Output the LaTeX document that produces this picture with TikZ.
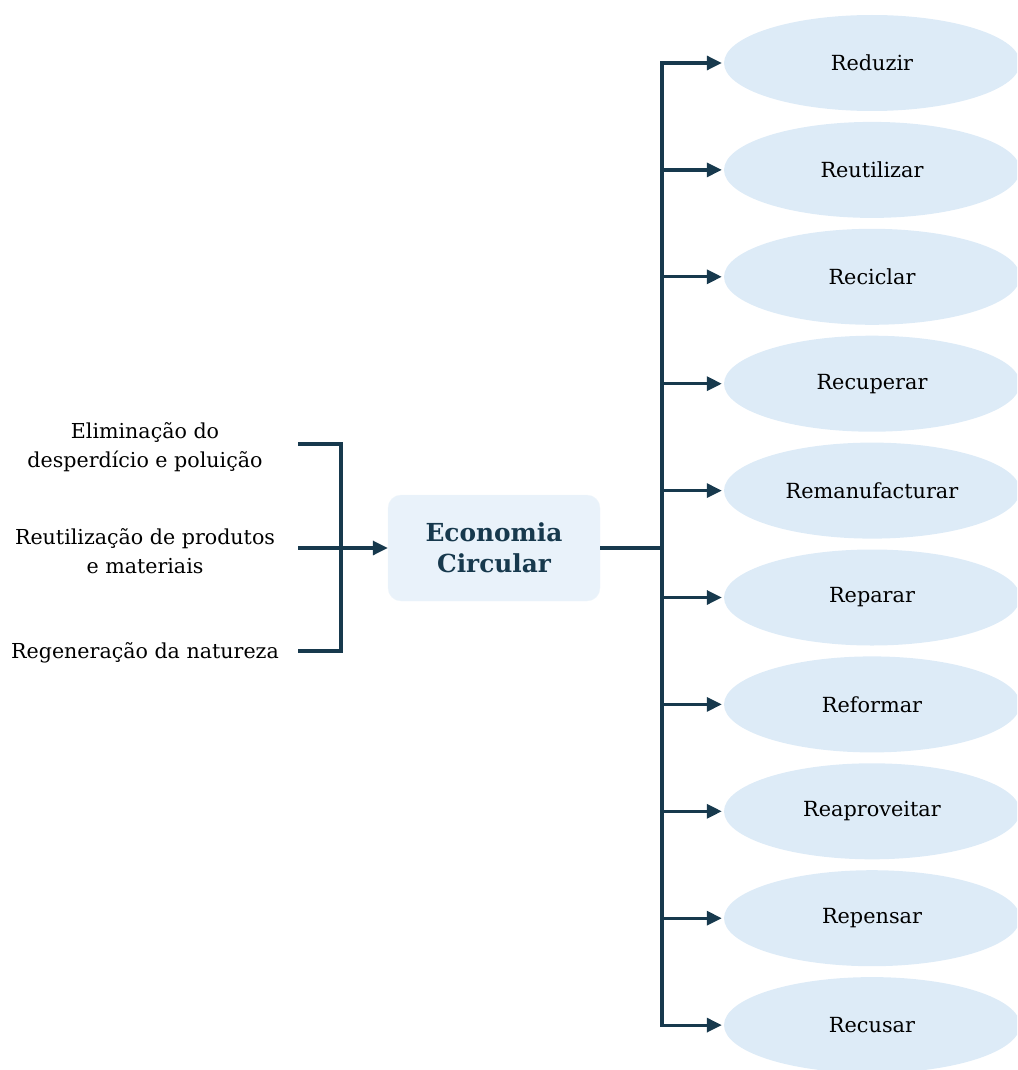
\documentclass[tikz,border=0pt]{standalone}
\usepackage{fontspec}
\setmainfont{DejaVu Serif}
\usetikzlibrary{shapes.geometric,arrows.meta}
\definecolor{navy}{HTML}{17394D}
\definecolor{pillblue}{HTML}{DDEBF7}
\definecolor{boxblue}{HTML}{E9F2FA}
\tikzset{
  conn/.style={draw=navy, line width=3.2pt},
  arr/.style={conn, -{Triangle[length=15pt,width=14pt]}},
  pill/.style={ellipse, fill=pillblue, minimum width=296pt, minimum height=96pt, inner sep=0pt,
    font=\fontsize{20.8}{24}\selectfont},
  side/.style={align=center, font=\fontsize{20.6}{29}\selectfont},
}
\begin{document}
\begin{tikzpicture}[x=1pt,y=-1pt]
\useasboundingbox (0,0) rectangle (1017,1070);
\clip (0,0) rectangle (1017,1070);

% central box
\node[draw=boxblue!70!white, fill=boxblue, rounded corners=13pt, minimum width=212pt, minimum height=106pt,
  align=center, text=navy, font=\bfseries\fontsize{24.8}{31}\selectfont] (ec) at (494,548) {Economia\\Circular};

% principles on the left
\node[side] (p1) at (145,447) {Eliminação do\\desperdício e poluição};
\node[side] (p2) at (145,551) {Reutilização de produtos\\e materiais};
\node[side] (p3) at (145,653) {Regeneração da natureza};

\coordinate (b1) at (298,444);
\coordinate (b2) at (298,548);
\coordinate (b3) at (298,651);
\coordinate (bt) at (341,444);
\coordinate (bb) at (341,651);
\draw[conn] (b1) -- (bt) -- (bb) -- (b3);
\draw[arr] (b2) -- (ec.west);

% the R actions
\foreach \i/\t in {0/Reduzir,1/Reutilizar,2/Reciclar,3/Recuperar,4/Remanufacturar,
                   5/Reparar,6/Reformar,7/Reaproveitar,8/Repensar,9/Recusar}{
  \node[pill] (r\i) at (872,{63+106.9*\i}) {\t};
  \coordinate (k\i) at (662,{63+106.9*\i});
}
\coordinate (hub) at (662,548);
\draw[conn, line cap=rect] (k0) -- (k9);
\draw[conn] (ec.east) -- (hub);
\foreach \i in {0,...,9}{
  \draw[arr] (k\i) -- ([xshift=-2pt]r\i.west);
}
\end{tikzpicture}
\end{document}
